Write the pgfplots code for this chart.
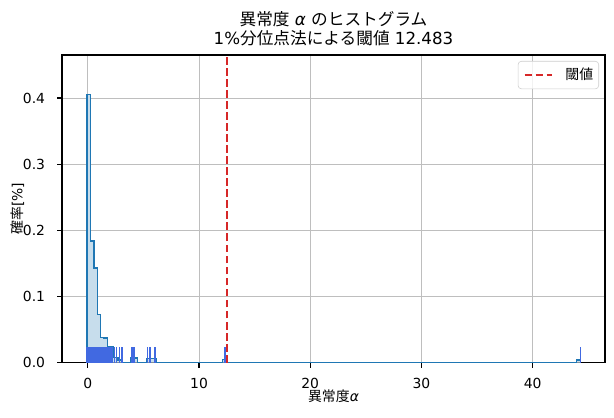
\documentclass[border=0pt]{standalone}
\usepackage{fontspec}
\setmainfont{DejaVu Sans}
\newfontfamily\jp{Noto Sans CJK JP}
\usepackage{pgfplots}
\pgfplotsset{compat=1.18}
\pgfplotsset{legend image code/.code={\draw[#1] (0pt,0pt) -- (20pt,0pt);}}
\definecolor{histline}{RGB}{31,119,180}
\definecolor{histfill}{RGB}{199,221,236}
\definecolor{rugc}{RGB}{65,105,225}
\definecolor{thr}{RGB}{214,39,40}
\definecolor{gridc}{RGB}{190,190,190}
\begin{document}
\begin{tikzpicture}
\useasboundingbox (-44.64pt,-39.8pt) rectangle (397.44pt,261.1pt);
\begin{axis}[name=ax, at={(0,0)}, anchor=south west, scale only axis,
  width=390.96pt, height=221.5pt,
  xmin=-2.32, xmax=46.5, ymin=0, ymax=0.465,
  xtick={0,10,20,30,40}, ytick={0,0.1,0.2,0.3,0.4},
  /pgf/number format/assume math mode=true,
  xticklabel={\pgfmathprintnumber[assume math mode=true]{\tick}},
  yticklabel={\pgfmathprintnumber[assume math mode=true,fixed,fixed zerofill,precision=1]{\tick}},
  tick label style={font=\fontsize{10}{12}\selectfont},
  tick align=outside, tick pos=left, major tick length=3.5pt,
  every tick/.style={black, line width=0.8pt},
  axis line style={line width=0.8pt},
  grid=major, major grid style={gridc, line width=0.7pt},
  xticklabel style={inner sep=0pt, anchor=north, yshift=-7.5pt},
  yticklabel style={inner sep=0pt, anchor=east, xshift=-8.5pt},
  legend style={at={(1,1)}, anchor=north east, xshift=-4.3pt, yshift=-4.3pt,
    draw=black!20, rounded corners=2.5pt, fill=white, fill opacity=0.8, text opacity=1,
    font=\fontsize{10}{12}\selectfont\jp, inner xsep=4pt, inner ysep=5pt,
    nodes={inner sep=0pt},
    /tikz/every odd column/.append style={column sep=8.6pt}},
  legend cell align=left,
]
% histogram (probability per bin), step element
\addplot[const plot mark left, fill=histfill, draw=none, forget plot] coordinates {
(-0.08,0) (-0.08,0.405) (0.23,0.184) (0.54,0.143) (0.85,0.073) (1.16,0.038)
(1.47,0.037) (1.78,0.024) (2.27,0.008) (2.72,0.004) (3.05,0) (3.86,0.007)
(4.45,0) (5.25,0.006) (6.12,0) (12.10,0.005) (12.41,0) (43.96,0.004) (44.27,0)
} \closedcycle;
\addplot[const plot mark left, histline, line width=1pt, forget plot] coordinates {
(-0.08,0) (-0.08,0.405) (0.23,0.184) (0.54,0.143) (0.85,0.073) (1.16,0.038)
(1.47,0.037) (1.78,0.024) (2.27,0.008) (2.72,0.004) (3.05,0) (3.86,0.007)
(4.45,0) (5.25,0.006) (6.12,0) (12.10,0.005) (12.41,0) (43.96,0.004) (44.27,0)
};
% rug
\addplot[ycomb, rugc, line width=1pt, no markers, forget plot] coordinates {
(-0.06,0.0232) (0.00,0.0232) (0.06,0.0232) (0.12,0.0232) (0.18,0.0232) (0.24,0.0232)
(0.30,0.0232) (0.36,0.0232) (0.42,0.0232) (0.48,0.0232) (0.54,0.0232) (0.60,0.0232)
(0.66,0.0232) (0.72,0.0232) (0.78,0.0232) (0.84,0.0232) (0.90,0.0232) (0.96,0.0232)
(1.02,0.0232) (1.08,0.0232) (1.14,0.0232) (1.20,0.0232) (1.26,0.0232) (1.32,0.0232)
(1.38,0.0232) (1.44,0.0232) (1.50,0.0232) (1.56,0.0232) (1.62,0.0232)
(1.77,0.0232) (1.83,0.0232) (1.89,0.0232) (1.95,0.0232) (2.01,0.0232) (2.07,0.0232)
(2.13,0.0232) (2.19,0.0232)
(2.40,0.0232) (2.56,0.0232) (2.83,0.0232) (3.06,0.0232) (3.96,0.0232) (4.16,0.0232)
(5.35,0.0232) (5.59,0.0232) (6.04,0.0232) (12.35,0.0232) (44.27,0.0232)
};
% threshold
\addplot[thr, line width=1.5pt, dash pattern=on 5.55pt off 2.4pt]
  coordinates {(12.483,0) (12.483,0.465)};
\addlegendentry{閾値}
\end{axis}
\node[font=\fontsize{12}{14.4}\selectfont, anchor=base] at ([yshift=21.2pt]ax.north)
  {{\jp 異常度} \textit{α} {\jp のヒストグラム}};
\node[font=\fontsize{12}{14.4}\selectfont, anchor=base] at ([yshift=7.2pt]ax.north)
  {1\%{\jp 分位点法による閾値} 12.483};
\node[anchor=base] at ([yshift=-28.3pt]ax.south) {{\jp 異常度}\textit{α}};
\node[rotate=90, anchor=center] at ([xshift=-32pt]ax.west) {{\jp 確率}[\%]};
\end{tikzpicture}
\end{document}
